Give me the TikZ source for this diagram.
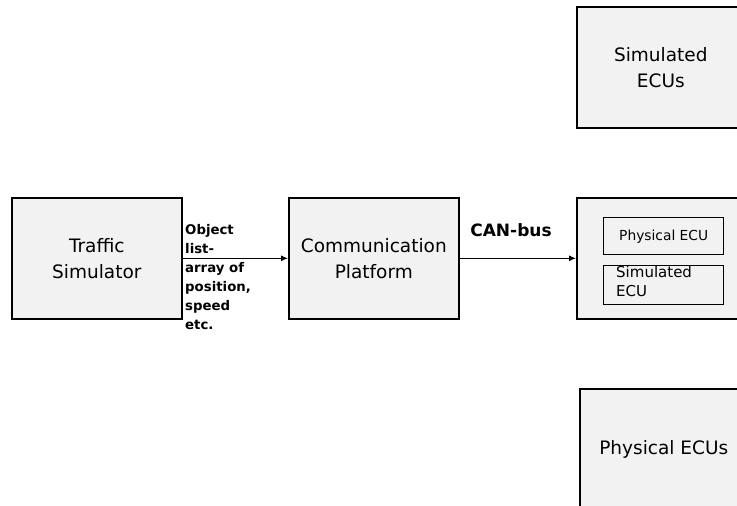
\documentclass[tikz,border=0pt]{standalone}
\usepackage{fontspec}
\setmainfont{DejaVu Sans}
\usetikzlibrary{arrows.meta}
\definecolor{boxfill}{HTML}{F2F2F2}
\begin{document}
\begin{tikzpicture}[x=1pt,y=-1pt,
  blk/.style={draw=black, line width=1.6pt, fill=boxfill, rectangle, inner sep=0pt, anchor=north west, font=\fontsize{18.5}{26}\selectfont, align=center},
  inner/.style={draw=black, line width=1.4pt, fill=boxfill, rectangle, inner sep=0pt, anchor=north west, minimum width=120pt},
  conn/.style={line width=1.2pt, -{Latex[length=7pt,width=6pt]}},
  lbl/.style={font=\fontsize{13.3}{19}\selectfont\bfseries, align=left, inner sep=0pt}
]
\useasboundingbox (0,0) rectangle (737,506);
\clip (0,0) rectangle (737,506);
\fill[white] (0,0) rectangle (737,506);

\node[blk, minimum width=170pt, minimum height=121pt] (ts) at (11,197) {Traffic\\Simulator};
\node[blk, minimum width=170pt, minimum height=121pt] (cp) at (288,197) {Communication\\Platform};
\node[blk, minimum width=170pt, minimum height=121pt] (mid) at (576,197) {};
\node[blk, minimum width=168pt, minimum height=121pt] (sim) at (576,6) {Simulated\\ECUs};
\node[blk, minimum width=168pt, minimum height=121pt] (phy) at (579,388) {Physical ECUs};

\node[inner, minimum height=37pt, font=\fontsize{13.8}{16}\selectfont] (pe) at (603,217) {Physical ECU};
\node[inner, minimum height=39pt] (se) at (603,265) {};
\node[anchor=north west, inner sep=0pt, align=left, font=\fontsize{15}{19}\selectfont] (setext) at ([xshift=13pt,yshift=-1pt]se.north west) {Simulated\\ECU};

\draw[conn] (ts.east) -- (cp.west);
\draw[conn] (cp.east) -- (mid.west);

\node[lbl, anchor=north west] (ol) at (185,224) {Object\\list-\\array of\\position,\\speed\\etc.};
\node[lbl, font=\fontsize{17}{20}\selectfont\bfseries] (can) at (511,230) {CAN-bus};
\end{tikzpicture}
\end{document}
